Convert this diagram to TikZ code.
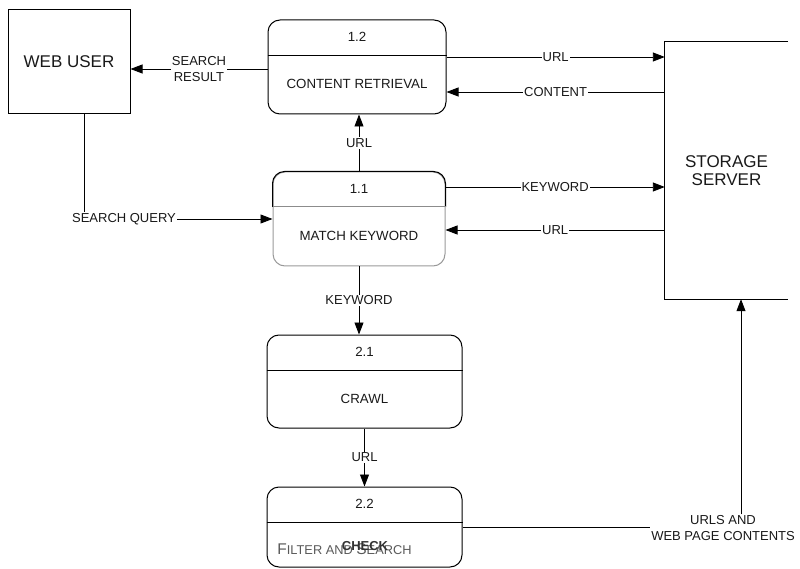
\documentclass[tikz,border=0pt]{standalone}
\usepackage{fontspec}
\setmainfont{Liberation Sans}
\usetikzlibrary{arrows.meta}
\begin{document}
\begin{tikzpicture}[x=1pt,y=-1pt,
  every node/.style={text=black!90, inner sep=1pt},
  box/.style={draw, line width=1pt, rounded corners=12pt},
  lbl/.style={fill=white, font=\fontsize{13}{15.5}\selectfont, align=center, inner sep=1pt},
  ptxt/.style={font=\fontsize{13.3}{15}\selectfont},
  arr/.style={draw, line width=0.9pt, -{Triangle[length=12pt,width=9pt]}},
  ln/.style={draw, line width=0.9pt}]
\useasboundingbox (0,0) rectangle (800,569);

% external entity
\node[draw, line width=1pt, minimum width=122pt, minimum height=104pt, font=\fontsize{17}{19}\selectfont] (wu) at (69,62) {WEB USER};

% storage server (open on the right)
\node[minimum width=123pt, minimum height=257pt, font=\fontsize{17}{18}\selectfont, align=center] (ss) at (726.5,170.5) {STORAGE\\SERVER};
\draw[line width=1pt] (ss.north east) -- (ss.north west) -- (ss.south west) -- (ss.south east);

% process 1.2
\node[box, minimum width=178pt, minimum height=94pt] (p12) at (357,67) {};
\draw[line width=1pt] (p12.west |- 0,56) -- (p12.east |- 0,56);
\node[ptxt] (p12n) at (357,37) {1.2};
\node[ptxt] (p12t) at (357,84) {CONTENT RETRIEVAL};

% process 1.1
\node[box, draw=black!40, minimum width=172pt, minimum height=94pt] (p11) at (359,219) {};
\draw[line width=1pt, rounded corners=12pt] (p11.west |- 0,207) -- (p11.north west) -- (p11.north east) -- (p11.east |- 0,207);
\draw[line width=1pt, black!45] (p11.west |- 0,207) -- (p11.east |- 0,207);
\node[ptxt] (p11n) at (359,189) {1.1};
\node[ptxt] (p11t) at (359,236) {MATCH KEYWORD};

% process 2.1
\node[box, minimum width=195pt, minimum height=93pt] (p21) at (364.5,381.5) {};
\draw[line width=1pt] (p21.west |- 0,370) -- (p21.east |- 0,370);
\node[ptxt] (p21n) at (364.5,352) {2.1};
\node[ptxt] (p21t) at (364.5,399) {CRAWL};

% process 2.2
\node[box, minimum width=195pt, minimum height=80pt] (p22) at (364.5,527) {};
\draw[line width=1pt] (p22.west |- 0,522) -- (p22.east |- 0,522);
\node[ptxt] (p22n) at (364.5,504) {2.2};
\node[text=black!65] (fas) at (344.5,549) {\fontsize{15.5}{16}\selectfont F\fontsize{12.8}{16}\selectfont ILTER AND \fontsize{15.5}{16}\selectfont S\fontsize{12.8}{16}\selectfont EARCH};
\node[font=\fontsize{13}{15}\selectfont\bfseries, text=black!80] (p22t) at (365,546) {CHECK};

% flows
\draw[arr] (p12.west |- 0,69) -- (wu.east |- 0,69) node[lbl, midway] {SEARCH\\RESULT};
\draw[arr] (wu.south -| 84,0) |- (p11.west);
\node[lbl] (sq) at (124,219) {SEARCH QUERY};
\draw[arr] (p11.north) -- (p11.north |- p12.south) node[lbl, midway] {URL};
\draw[arr] (p12.east |- 0,57) -- (ss.west |- 0,57) node[lbl, midway] {URL};
\draw[arr] (ss.west |- 0,92) -- (p12.east |- 0,92) node[lbl, midway] {CONTENT};
\draw[arr] (p11.east |- 0,187) -- (ss.west |- 0,187) node[lbl, midway] {KEYWORD};
\draw[arr] (ss.west |- 0,230) -- (p11.east |- 0,230) node[lbl, midway] {URL};
\draw[arr] (p11.south) -- (p11.south |- p21.north) node[lbl, midway] {KEYWORD};
\draw[arr] (p21.south) -- (p22.north) node[lbl, midway] {URL};

\node[lbl] (uw) at (723,528) {URLS AND\\WEB PAGE CONTENTS};
\draw[ln] (p22.east |- 0,527) -- (uw.west |- 0,527);
\draw[arr] (uw.north -| 741,0) -- (ss.south -| 741,0);
\end{tikzpicture}
\end{document}
